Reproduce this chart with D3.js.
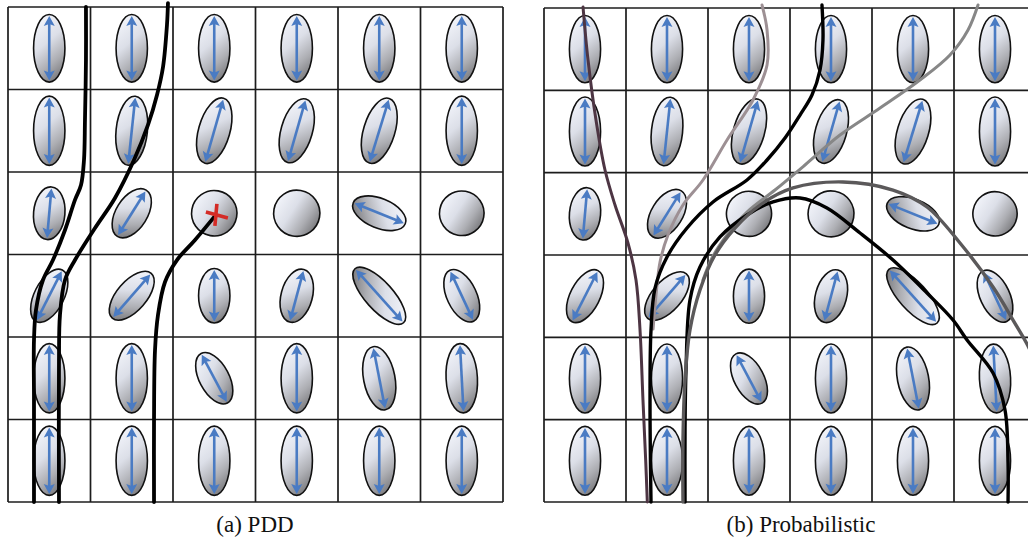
<!doctype html>
<html lang="en">
  <head>
    <meta charset="UTF-8"/>
    <title>PDD vs Probabilistic</title>
    <script src="https://cdnjs.cloudflare.com/ajax/libs/d3/7.8.5/d3.min.js"></script>
    <style>
      body { margin: 0; background: #fff; }
      svg { display: block; }
    </style>
  </head>
  <body>
    <svg id="chart" width="1028" height="543"></svg>
    <script>
      // tensor field, one entry per cell (row-major, 6x6)
      // angle in degrees (rotation of the major axis from vertical, clockwise)
      const ANGLES = [
        [0, 0, 0, 0, 0, 0],
        [0, 6, 16, 16, 17, 0],
        [5, 32, -35, -35, 112, -35],
        [27, 41, 0, 15, 138, -25],
        [0, 0, -28, 0, -11, -3],
        [0, 0, 0, 0, 0, 0]
      ];
      // semi-axes in cell units
      const MAJOR = [
        [.41, .41, .41, .41, .41, .41],
        [.42, .42, .41, .40, .41, .42],
        [.32, .33, .275, .28, .34, .27],
        [.35, .36, .33, .33, .44, .34],
        [.42, .42, .34, .42, .39, .42],
        [.42, .42, .42, .42, .42, .42]
      ];
      const MINOR = [
        [.19, .19, .19, .19, .19, .19],
        [.19, .19, .19, .19, .19, .19],
        [.19, .19, .275, .28, .18, .27],
        [.18, .18, .19, .19, .17, .18],
        [.19, .19, .18, .19, .19, .19],
        [.19, .19, .19, .19, .19, .19]
      ];

      // streamlines, points in grid units [col, row]
      const pddA = [[0.945,0],[0.945,0.642],[0.933,1.37],[0.921,1.855],[0.885,2.158],[0.812,2.339],[0.691,2.703],[0.545,3.067],[0.424,3.309],[0.339,3.673],[0.315,4.036],[0.315,4.764],[0.315,6]];
      const pddB = [[1.939,-0.048],[1.927,0.218],[1.879,0.727],[1.806,1.067],[1.697,1.43],[1.527,1.855],[1.297,2.315],[1.055,2.679],[0.812,3.067],[0.691,3.309],[0.63,3.733],[0.618,4.279],[0.618,6]];
      const pddC = [[2.52,2.52],[2.267,2.824],[2.048,3.067],[1.903,3.333],[1.818,3.733],[1.782,4.158],[1.77,5.006],[1.77,6]];
      const seedCross = [2.52, 2.52];

      const probPurple = [[0.476,-0.012],[0.537,0.632],[0.634,1.36],[0.744,1.968],[0.866,2.393],[1.024,2.854],[1.122,3.304],[1.171,3.911],[1.207,4.761],[1.24,5.49],[1.26,6]];
      const probMauve = [[2.659,-0.036],[2.72,0.267],[2.72,0.692],[2.549,1.117],[2.232,1.603],[1.939,2.089],[1.695,2.393],[1.512,2.757],[1.415,3.085],[1.366,3.486],[1.33,3.9]];
      const probGrey = [[5.293,-0.036],[5.171,0.267],[4.951,0.571],[4.585,0.875],[4.098,1.215],[3.61,1.543],[3.183,1.907],[2.817,2.211],[2.476,2.478],[2.232,2.757],[2.049,3.036],[1.939,3.304]];
      const probBlack1 = [[3.39,-0.036],[3.402,0.389],[3.366,0.753],[3.268,1.057],[3.122,1.3],[2.939,1.579],[2.72,1.846],[2.476,2.089],[2.061,2.356],[1.744,2.672],[1.5,3.024],[1.354,3.401],[1.305,3.911],[1.293,4.761],[1.305,6]];
      const probDark = [[1.695,6],[1.695,5.247],[1.72,4.518],[1.78,3.911],[1.902,3.425],[2.085,3.0],[2.329,2.672],[2.634,2.393],[3.037,2.186],[3.646,2.113],[4.256,2.211],[4.671,2.417],[5.073,2.854],[5.476,3.389],[5.72,3.79],[5.927,4.154],[6.049,4.518]];
      const probBlack2 = [[1.72,6],[1.72,5.125],[1.732,4.397],[1.78,3.547],[1.902,3.146],[2.146,2.781],[2.476,2.514],[2.793,2.356],[3.122,2.308],[3.451,2.429],[3.854,2.733],[4.256,3.061],[4.671,3.462],[4.988,3.79],[5.159,4.032],[5.476,4.433],[5.622,4.883],[5.659,5.527],[5.659,6]];

      const captions = ["(a) PDD", "(b) Probabilistic"];
      const captionX = [255, 801];

      const svg = d3.select("#chart");

      const defs = svg.append("defs");
      const grad = defs.append("linearGradient")
        .attr("id", "shade")
        .attr("x1", 0.3).attr("y1", 0)
        .attr("x2", 0.7).attr("y2", 1);
      grad.append("stop").attr("offset", 0).attr("stop-color", "#f3f5fb");
      grad.append("stop").attr("offset", 0.4).attr("stop-color", "#dcdfe8");
      grad.append("stop").attr("offset", 0.72).attr("stop-color", "#adaeb3");
      grad.append("stop").attr("offset", 1).attr("stop-color", "#77777a");

      const panels = [
        {
          x: d3.scaleLinear().domain([0, 6]).range([8, 503]),
          y: d3.scaleLinear().domain([0, 6]).range([7, 502]),
          lines: [
            {pts: pddA, color: "#000", w: 3.8},
            {pts: pddB, color: "#000", w: 3.8},
            {pts: pddC, color: "#000", w: 3.8}
          ],
          cross: seedCross
        },
        {
          x: d3.scaleLinear().domain([0, 6]).range([544, 1036]),
          y: d3.scaleLinear().domain([0, 6]).range([8, 502]),
          lines: [
            {pts: probPurple, color: "#4d3543", w: 3},
            {pts: probMauve, color: "#9d9094", w: 3},
            {pts: probGrey, color: "#878787", w: 3},
            {pts: probBlack1, color: "#000", w: 3.4},
            {pts: probBlack2, color: "#000", w: 3.4},
            {pts: probDark, color: "#5b595a", w: 3.4}
          ]
        }
      ];

      const cells = [];
      for (let r = 0; r < 6; r++)
        for (let c = 0; c < 6; c++)
          cells.push({r: r, c: c, a: ANGLES[r][c], maj: MAJOR[r][c], min: MINOR[r][c]});

      panels.forEach((p, pi) => {
        const g = svg.append("g");
        const k = p.x(1) - p.x(0);

        // grid
        g.selectAll(".vl").data(d3.range(7)).enter().append("line")
          .attr("x1", d => p.x(d)).attr("x2", d => p.x(d))
          .attr("y1", p.y(0)).attr("y2", p.y(6))
          .attr("stroke", "#1c1c1c").attr("stroke-width", 1.7);
        g.selectAll(".hl").data(d3.range(7)).enter().append("line")
          .attr("y1", d => p.y(d)).attr("y2", d => p.y(d))
          .attr("x1", p.x(0)).attr("x2", p.x(6))
          .attr("stroke", "#1c1c1c").attr("stroke-width", 1.7);

        // glyphs
        const glyph = g.selectAll(".glyph").data(cells).enter().append("g")
          .attr("transform", d => `translate(${p.x(d.c + 0.5)},${p.y(d.r + 0.5)}) rotate(${d.a})`);

        glyph.append("ellipse")
          .attr("rx", d => d.min * k)
          .attr("ry", d => d.maj * k)
          .attr("fill", "url(#shade)")
          .attr("stroke", "#111")
          .attr("stroke-width", 1.6);

        const arrows = glyph.filter(d => d.maj > d.min + 0.01);
        const blue = "#4a7bc3";
        arrows.append("line")
          .attr("x1", 0).attr("x2", 0)
          .attr("y1", d => -d.maj * k + 8)
          .attr("y2", d => d.maj * k - 8)
          .attr("stroke", blue).attr("stroke-width", 2.6);
        arrows.append("path")
          .attr("fill", blue)
          .attr("d", d => {
            const L = d.maj * k - 1.5;
            return `M0,${-L}L5.5,${-L + 10}L0,${-L + 8}L-5.5,${-L + 10}Z` +
                   `M0,${L}L5.5,${L - 10}L0,${L - 8}L-5.5,${L - 10}Z`;
          });

        // streamlines
        const line = d3.line()
          .x(d => p.x(d[0])).y(d => p.y(d[1]))
          .curve(d3.curveCatmullRom.alpha(0.5));
        g.selectAll(".stream").data(p.lines).enter().append("path")
          .attr("d", d => line(d.pts))
          .attr("fill", "none")
          .attr("stroke", d => d.color)
          .attr("stroke-width", d => d.w)
          .attr("stroke-linecap", "round");

        if (p.cross) {
          const cx = p.x(p.cross[0]), cy = p.y(p.cross[1]);
          g.append("path")
            .attr("d", `M${cx - 10},${cy - 3}L${cx + 12},${cy + 3}M${cx + 1},${cy - 11}L${cx - 1},${cy + 11}`)
            .attr("stroke", "#d42b26").attr("stroke-width", 3.6).attr("fill", "none");
        }

        svg.append("text")
          .attr("x", captionX[pi])
          .attr("y", 532)
          .attr("text-anchor", "middle")
          .attr("font-family", "'Liberation Serif', 'DejaVu Serif', serif")
          .attr("font-size", 23)
          .attr("fill", "#111")
          .text(captions[pi]);
      });
    </script>
  </body>
</html>
